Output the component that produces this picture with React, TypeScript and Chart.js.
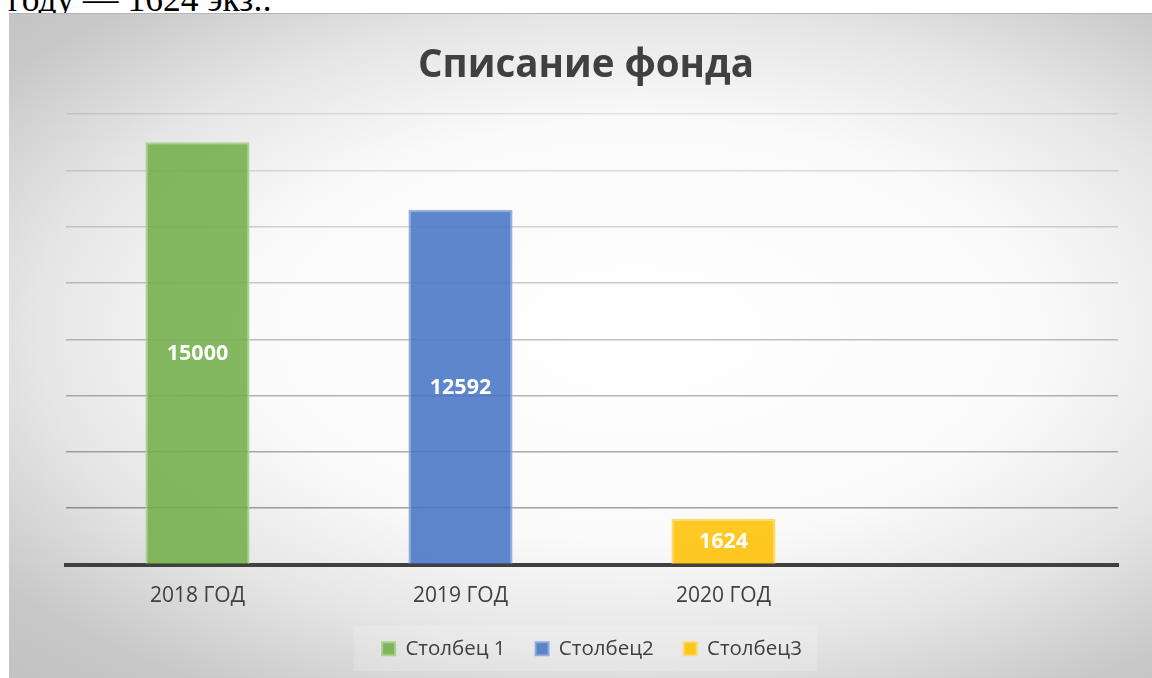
import React, { useEffect, useRef } from 'react';
import { Chart, registerables } from 'chart.js';

Chart.register(...registerables);

const categories = ['2018 ГОД', '2019 ГОД', '2020 ГОД', ''];
const seriesNames = ['Столбец 1', 'Столбец2', 'Столбец3'];
const series1 = [15000, null, null, null];
const series2 = [null, 12592, null, null];
const series3 = [null, null, 1624, null];
const yMin = 0;
const yMax = 16000;
const yStep = 2000;
const titleText = 'Списание фонда';
const headerText = 'году — 1624 экз.:';

const fills = ['rgba(112,173,71,0.86)', 'rgba(68,114,196,0.86)', 'rgba(255,192,0,0.86)'];
const borders = ['rgba(169,209,142,0.95)', 'rgba(143,170,220,0.95)', 'rgba(255,217,102,0.95)'];
const FONT = '"Open Sans", "Noto Sans", sans-serif';

const valueLabels = {
  id: 'valueLabels',
  afterDatasetsDraw(chart: any) {
    const ctx = chart.ctx;
    ctx.save();
    ctx.fillStyle = '#ffffff';
    ctx.font = `bold 21.5px ${FONT}`;
    ctx.textAlign = 'center';
    ctx.textBaseline = 'middle';
    chart.data.datasets.forEach((ds: any, di: number) => {
      const meta = chart.getDatasetMeta(di);
      meta.data.forEach((el: any, i: number) => {
        const v = ds.data[i];
        if (v === null || v === undefined) return;
        const p = el.getProps(['x', 'y', 'base'], true);
        ctx.fillText(String(v), p.x, (p.y + p.base) / 2 + 1);
      });
    });
    ctx.restore();
  },
};

const legendBg = {
  id: 'legendBg',
  beforeDraw(chart: any) {
    const lg = chart.legend;
    if (!lg || !lg.legendHitBoxes || !lg.legendHitBoxes.length) return;
    const hb = lg.legendHitBoxes;
    const first = hb[0];
    const last = hb[hb.length - 1];
    const x0 = first.left - 28;
    const x1 = last.left + last.width + 15;
    const ctx = chart.ctx;
    ctx.save();
    ctx.fillStyle = 'rgba(255,255,255,0.18)';
    ctx.fillRect(x0, 612, x1 - x0, 45);
    ctx.restore();
  },
};

export default function App() {
  const ref = useRef<HTMLCanvasElement | null>(null);

  useEffect(() => {
    if (!ref.current) return;
    const data = [series1, series2, series3];
    const chart = new Chart(ref.current, {
      type: 'bar',
      data: {
        labels: categories,
        datasets: data.map((d, i) => ({
          label: seriesNames[i],
          data: d,
          backgroundColor: fills[i],
          borderColor: borders[i],
          borderWidth: 2,
          categoryPercentage: 0.4,
          barPercentage: 0.99,
          skipNull: true,
        })),
      },
      options: {
        responsive: false,
        devicePixelRatio: 1,
        animation: false,
        layout: { padding: { left: 11, right: 0, top: 0, bottom: 10 } },
        plugins: {
          title: {
            display: true,
            text: titleText,
            color: '#404040',
            font: { family: FONT, size: 38.5, weight: 'bold', lineHeight: 1.2 },
            padding: { top: 29.1, bottom: 24.7 },
          },
          legend: {
            position: 'bottom',
            fullSize: false,
            labels: {
              boxWidth: 13,
              boxHeight: 13,
              padding: 30,
              color: '#404040',
              font: { family: FONT, size: 20.5 },
            },
          },
          tooltip: { enabled: false },
        },
        scales: {
          x: {
            grid: { display: false, drawTicks: false },
            border: { display: true, color: '#404040', width: 4 },
            ticks: { color: '#404040', font: { family: FONT, size: 21 }, padding: 19 },
            afterFit: (s: any) => {
              s.height = 44;
            },
          },
          y: {
            min: yMin,
            max: yMax,
            ticks: { display: false, stepSize: yStep },
            border: { display: false },
            grid: {
              drawTicks: false,
              lineWidth: 1.5,
              color: (c: any) => {
                const v = c.tick ? c.tick.value : 0;
                if (v === 0) return 'rgba(0,0,0,0)';
                const t = (v - 2000) / 14000;
                return `rgba(0,0,0,${(0.36 - 0.27 * t).toFixed(3)})`;
              },
            },
            afterFit: (s: any) => {
              s.width = 46;
            },
          },
          yRight: {
            position: 'right',
            display: true,
            ticks: { display: false },
            grid: { display: false, drawTicks: false },
            border: { display: false },
            afterFit: (s: any) => {
              s.width = 34;
            },
          },
        },
      },
      plugins: [valueLabels, legendBg],
    } as any);
    return () => chart.destroy();
  }, []);

  return (
    <div
      style={{
        position: 'fixed',
        left: 0,
        top: 0,
        width: 1152,
        height: 678,
        overflow: 'hidden',
        background: '#ffffff',
      }}
    >
      <div
        style={{
          position: 'absolute',
          left: 8,
          top: -18.5,
          fontFamily: '"Liberation Serif", "Times New Roman", serif',
          fontSize: 35.5,
          lineHeight: 1,
          color: '#000',
          whiteSpace: 'nowrap',
        }}
      >
        {headerText}
      </div>
      <div
        style={{
          position: 'absolute',
          left: 9,
          top: 13,
          width: 1143,
          height: 665,
          boxSizing: 'border-box',
          borderTop: '1px solid #b4b4b4',
          background:
            'radial-gradient(800px 420px at 631px 317px, #ffffff 0%, #fafafa 50%, #e6e6e6 75%, #c8c8c8 100%, #bcbcbc 130%)',
        }}
      >
        <canvas
          ref={ref}
          width={1143}
          height={665}
          style={{ position: 'absolute', left: 0, top: 0, width: 1143, height: 665 }}
        />
      </div>
    </div>
  );
}
